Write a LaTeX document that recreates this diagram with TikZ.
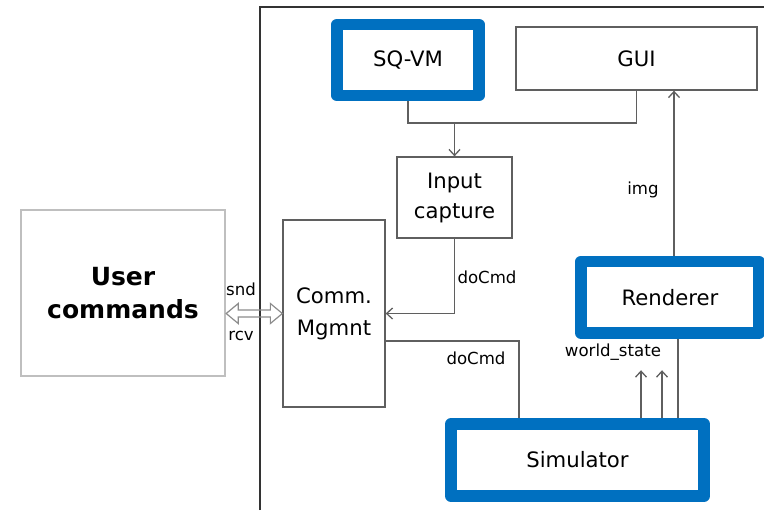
\documentclass[tikz,border=0pt]{standalone}
\usepackage{fontspec}
\setmainfont{DejaVu Sans}
\usepackage{tikz}
\usetikzlibrary{arrows.meta, positioning}
\definecolor{boxblue}{HTML}{0070C0}
\definecolor{linegray}{HTML}{5F5F5F}

\begin{document}
\begin{tikzpicture}[x=0.5pt, y=-0.5pt,
  box/.style={draw=linegray, line width=0.65pt, fill=white, align=center, inner sep=0pt,
    font=\fontsize{10.6}{15}\selectfont},
  bluebox/.style={box, draw=boxblue, line width=5.8pt, line join=round},
  lbl/.style={inner sep=0pt, font=\fontsize{8.3}{10}\selectfont},
  wire/.style={draw=linegray, line width=0.65pt},
  arr/.style={wire, -{Straight Barb[length=3pt, width=5.5pt]}},
  dblarr/.style={draw=black!45, line width=0.6pt, line join=miter}]
\useasboundingbox (0,0) rectangle (764,510);
\draw [black!80, line width=0.6pt] (260,510) |- (764,7);

\node [box, draw=black!25, line width=1.2pt, minimum width=102pt, minimum height=83pt,
  font=\fontsize{12.5}{16.5}\selectfont\bfseries] (user) at (123,293) {User\\commands};
\node [box, minimum width=51pt, minimum height=93.5pt, font=\fontsize{10.6}{16}\selectfont]
  (comm) at (334,313.5) {Comm.\\Mgmnt};
\node [bluebox, minimum width=71pt, minimum height=35.5pt] (sqvm) at (408,60) {SQ-VM};
\node [box, minimum width=120.5pt, minimum height=31.5pt] (gui) at (636.5,58.5) {GUI};
\node [box, minimum width=57.5pt, minimum height=40.5pt] (input) at (454.5,197.5) {Input\\capture};
\node [bluebox, minimum width=89pt, minimum height=35.75pt] (renderer) at (670,297.25) {Renderer};
\node [bluebox, minimum width=126.5pt, minimum height=36pt] (sim) at (577.5,460) {Simulator};

% hollow two-way arrow
\coordinate (dl) at (user.east |- comm.west);
\coordinate (dr) at (comm.west);
\draw [dblarr] (dl) -- ([shift={(12,-10)}]dl) -- ([shift={(12,-3.5)}]dl)
  -- ([shift={(-12,-3.5)}]dr) -- ([shift={(-12,-10)}]dr) -- (dr)
  -- ([shift={(-12,10)}]dr) -- ([shift={(-12,3.5)}]dr)
  -- ([shift={(12,3.5)}]dl) -- ([shift={(12,10)}]dl) -- cycle;
\node [lbl] at (241,289) {snd};
\node [lbl] at (241,336) {rcv};

\coordinate (bus) at (input.north |- 0,123);
\draw [wire] (sqvm.south) |- (bus) -| (gui.south);
\draw [arr] (bus) -- (input.north);

\draw [arr] (input.south) |- (comm.east);
\node [lbl] at (487,277) {doCmd};
\draw [wire] ([yshift=-13.75pt]comm.east) -| ([xshift=-29.25pt]sim.north);
\node [lbl] at (476,358) {doCmd};

\draw [arr] ([xshift=2pt]renderer.north) -- ([xshift=2pt]renderer.north |- gui.south);
\node [lbl] at (643,190) {img};

\draw [arr] ([xshift=31.75pt]sim.north) -- ++(0,-48);
\draw [arr] ([xshift=42.25pt]sim.north) -- ++(0,-48);
\draw [wire] ([xshift=50.25pt]sim.north) -- ([xshift=50.25pt]sim.north |- renderer.south);
\node [lbl] at (613,352) {world\_state};
\end{tikzpicture}
\end{document}
